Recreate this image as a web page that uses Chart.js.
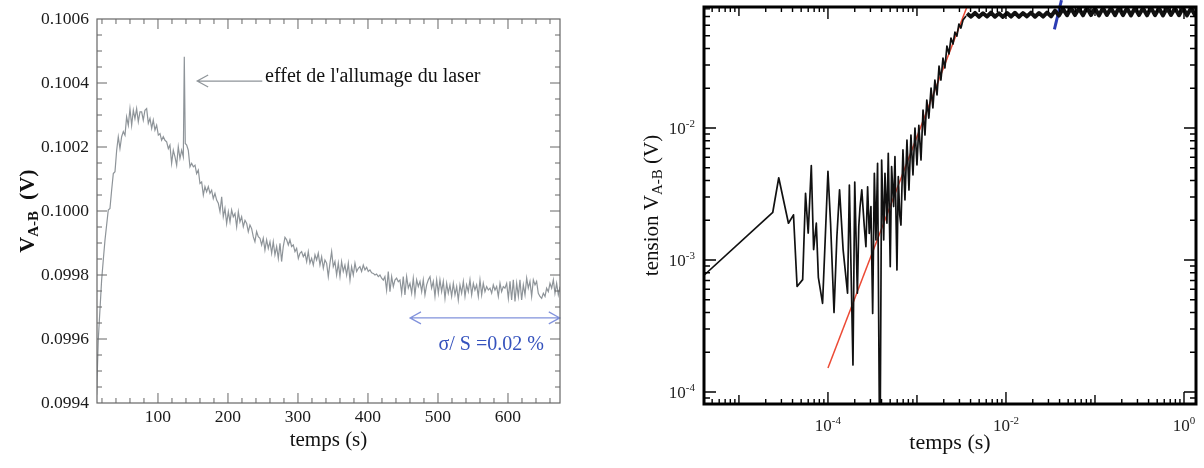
<!DOCTYPE html>
<html>
<head>
<meta charset="utf-8">
<script src="https://cdn.jsdelivr.net/npm/chart.js@4.4.0/dist/chart.umd.min.js"></script>
<style>
  html, body { margin: 0; padding: 0; background: #fff; }
  #wrap { position: relative; width: 1204px; height: 468px; }
  #left { position: absolute; left: 0; top: 0; }
  #right { position: absolute; left: 600px; top: 0; }
</style>
</head>
<body>
<div id="wrap">
  <canvas id="left" width="600" height="468"></canvas>
  <canvas id="right" width="604" height="468"></canvas>
</div>
<script>
// ---- left panel: V(A-B) vs time, linear axes ----
const leftTime = [
  12.4, 14.7, 19.5, 22.0,
  24.3, 29.0, 31.4, 33.8, 36.2, 38.6, 41.0, 43.3, 45.7, 48.1, 50.5, 52.9, 55.2, 57.6, 60.0, 62.4,
  64.8, 67.1, 69.5, 71.9, 74.3, 76.7, 79.0, 81.4, 83.8, 86.2, 88.6, 91.0, 93.3, 95.7, 98.1, 100.5,
  102.9, 105.2, 107.6, 110.0, 112.4, 114.8, 117.1, 119.5, 121.9, 124.3, 126.7, 129.0, 131.4, 133.8,
  136.2, 137.6, 139.0, 141.0, 143.3, 145.7, 148.1, 150.5, 152.9, 155.2, 157.6, 160.0, 162.4, 164.8,
  167.1, 169.5, 171.9, 174.3, 176.7, 179.0, 181.4, 183.8, 186.2, 188.6, 191.0, 193.3, 195.7, 198.1,
  200.5, 202.9, 205.2, 207.6, 210.0, 212.4, 214.8, 217.1, 219.5, 221.9, 224.3, 226.7, 229.0, 231.4,
  233.8, 236.2,
  238.5, 240.9, 243.3, 245.7, 248.1, 250.4, 252.8, 255.2, 257.6, 260.0, 262.4, 264.7, 267.1, 269.5,
  271.9, 274.3, 276.6, 279.0, 281.4, 283.8, 286.2, 288.5, 290.9, 293.3, 295.7, 298.1, 300.5, 302.8,
  305.2, 307.6, 310.0, 312.4, 314.7, 317.1, 319.5, 321.9, 324.3, 326.6, 329.0, 331.4, 333.8, 336.2,
  338.5, 340.9, 343.3, 345.7, 348.1, 350.4, 352.8, 355.2, 357.6, 360.0, 362.3, 364.7, 367.1, 369.5,
  371.9, 374.3, 376.6, 379.0, 381.4, 383.8, 386.2, 388.5, 390.9, 393.3, 395.7, 398.1, 400.4, 402.8,
  405.2, 407.6, 410.0, 412.3, 414.7, 417.1, 419.5, 421.9, 424.2, 426.6, 429.0, 431.4, 433.8, 436.2,
  438.5, 440.9, 443.3, 445.7, 448.1, 450.4, 452.8, 455.2,
  457.6, 460.0, 462.4, 464.7, 467.1, 469.5, 471.9, 474.3, 476.7, 479.0, 481.4, 483.8, 486.2, 488.6,
  490.9, 493.3, 495.7, 498.1, 500.5, 502.8, 505.2, 507.6, 510.0, 512.4, 514.7, 517.1, 519.5, 521.9,
  524.3, 526.7, 529.0, 531.4, 533.8, 536.2, 538.6, 540.9, 543.3, 545.7, 548.1, 550.5, 552.8, 555.2,
  557.6, 560.0, 562.4, 564.7, 567.1, 569.5, 571.9, 574.3, 576.7, 579.0, 581.4, 583.8, 586.2, 588.6,
  590.9, 593.3, 595.7, 598.1, 600.5, 602.9, 605.2, 607.6, 610.0, 612.4, 614.8, 617.1, 619.5, 621.9,
  624.3, 626.7, 629.0, 631.4, 633.8, 636.2, 638.6, 640.9, 643.3, 645.7, 648.1, 650.5, 652.9, 655.2,
  657.6, 660.0, 662.4, 664.8, 667.1, 669.5, 671.9, 674.3
];
const leftVolt = [
  0.099426, 0.099597, 0.099784, 0.099850,
  0.099909, 0.100003, 0.100008, 0.100065, 0.100117, 0.100123, 0.100190, 0.100232, 0.100195, 0.100232,
  0.100248, 0.100237, 0.100294, 0.100268, 0.100320, 0.100268, 0.100315, 0.100289, 0.100320, 0.100279,
  0.100310, 0.100310, 0.100284, 0.100315, 0.100320, 0.100274, 0.100289, 0.100258, 0.100284, 0.100253,
  0.100268, 0.100237, 0.100242, 0.100221, 0.100232, 0.100221, 0.100216, 0.100195, 0.100206, 0.100149,
  0.100190, 0.100169, 0.100143, 0.100201, 0.100164, 0.100190, 0.100169, 0.100482, 0.100211, 0.100206,
  0.100190, 0.100138, 0.100149, 0.100138, 0.100143, 0.100117, 0.100128, 0.100086, 0.100091, 0.100050,
  0.100076, 0.100060, 0.100076, 0.100055, 0.100065, 0.100039, 0.100055, 0.100034, 0.100024, 0.099998,
  0.100044, 0.099982, 0.100008, 0.099961, 0.099998, 0.099966, 0.100003, 0.099982, 0.099992, 0.099951,
  0.099998, 0.099966, 0.099982, 0.099951, 0.099971, 0.099961, 0.099935, 0.099956, 0.099945, 0.099919,
  0.099904, 0.099936, 0.099920, 0.099915, 0.099894, 0.099915, 0.099878, 0.099910, 0.099883, 0.099904,
  0.099868, 0.099904, 0.099863, 0.099889, 0.099852, 0.099899, 0.099842, 0.099889, 0.099918, 0.099910,
  0.099894, 0.099910, 0.099889, 0.099894, 0.099873, 0.099883, 0.099852, 0.099868, 0.099873, 0.099857,
  0.099868, 0.099842, 0.099873, 0.099837, 0.099852, 0.099831, 0.099863, 0.099847, 0.099868, 0.099831,
  0.099857, 0.099821, 0.099847, 0.099837, 0.099795, 0.099837, 0.099873, 0.099826, 0.099842, 0.099800,
  0.099837, 0.099795, 0.099842, 0.099811, 0.099831, 0.099800, 0.099837, 0.099784, 0.099826, 0.099800,
  0.099837, 0.099811, 0.099821, 0.099826, 0.099811, 0.099831, 0.099816, 0.099824, 0.099811, 0.099816,
  0.099807, 0.099805, 0.099800, 0.099803, 0.099795, 0.099800, 0.099790, 0.099784, 0.099795, 0.099753,
  0.099811, 0.099748, 0.099795, 0.099764, 0.099784, 0.099790, 0.099779, 0.099784, 0.099743, 0.099795,
  0.099738, 0.099795,
  0.099759, 0.099774, 0.099743, 0.099790, 0.099738, 0.099785, 0.099764, 0.099780, 0.099748, 0.099785,
  0.099738, 0.099769, 0.099785, 0.099795, 0.099759, 0.099780, 0.099733, 0.099785, 0.099743, 0.099785,
  0.099748, 0.099780, 0.099727, 0.099774, 0.099743, 0.099769, 0.099733, 0.099774, 0.099738, 0.099764,
  0.099722, 0.099769, 0.099743, 0.099780, 0.099733, 0.099769, 0.099748, 0.099785, 0.099738, 0.099774,
  0.099753, 0.099769, 0.099733, 0.099785, 0.099738, 0.099774, 0.099748, 0.099764, 0.099753, 0.099759,
  0.099743, 0.099769, 0.099753, 0.099764, 0.099733, 0.099774, 0.099748, 0.099764, 0.099759, 0.099774,
  0.099727, 0.099780, 0.099722, 0.099785, 0.099717, 0.099774, 0.099733, 0.099785, 0.099722, 0.099769,
  0.099738, 0.099790, 0.099759, 0.099780, 0.099733, 0.099785, 0.099769, 0.099780, 0.099743, 0.099733,
  0.099727, 0.099743, 0.099733, 0.099759, 0.099748, 0.099774, 0.099759, 0.099785, 0.099743, 0.099774,
  0.099738, 0.099764
];
const leftXTicks = [100, 200, 300, 400, 500, 600];
const leftYTicks = [0.0994, 0.0996, 0.0998, 0.1000, 0.1002, 0.1004, 0.1006];
const leftYLabels = ['0.0994', '0.0996', '0.0998', '0.1000', '0.1002', '0.1004', '0.1006'];

// ---- right panel: log-log ----
const rightTime = [
  4.0e-6, 2.4e-5, 2.8e-5, 3.6e-5, 4.1e-5, 4.5e-5, 5.2e-5, 5.6e-5, 6.0e-5, 6.5e-5, 6.9e-5, 7.4e-5,
  7.8e-5, 8.7e-5, 9.3e-5, 1.0e-4, 1.07e-4, 1.17e-4, 1.26e-4, 1.35e-4, 1.48e-4, 1.66e-4, 1.74e-4,
  1.91e-4, 2.0e-4, 2.14e-4, 2.22e-4, 2.29e-4, 2.4e-4, 2.56e-4, 2.67e-4, 2.79e-4, 2.91e-4, 3.04e-4,
  3.18e-4, 3.32e-4, 3.46e-4, 3.61e-4, 3.78e-4, 3.87e-4, 4.01e-4, 4.23e-4, 4.37e-4, 4.6e-4, 4.76e-4,
  5.01e-4, 5.19e-4, 5.47e-4, 5.66e-4, 5.96e-4, 6.17e-4, 6.4e-4,
  6.61e-4, 6.96e-4, 7.33e-4, 7.72e-4, 8.13e-4, 8.56e-4, 9.02e-4, 9.50e-4, 1.0e-3, 1.05e-3, 1.11e-3,
  1.17e-3, 1.23e-3, 1.29e-3, 1.36e-3, 1.44e-3, 1.51e-3, 1.59e-3, 1.68e-3, 1.77e-3, 1.86e-3, 1.96e-3,
  2.06e-3, 2.17e-3, 2.29e-3, 2.41e-3, 2.54e-3, 2.67e-3, 2.81e-3, 2.96e-3, 3.12e-3, 3.29e-3, 3.56e-3
];
const rightVolt = [
  7.6e-4, 2.3e-3, 4.2e-3, 1.9e-3, 2.2e-3, 6.3e-4, 7.1e-4, 3.2e-3, 1.6e-3, 5.2e-3, 1.2e-3, 1.9e-3,
  7.4e-4, 4.7e-4, 1.4e-3, 4.7e-3, 1.9e-3, 4.0e-4, 1.5e-3, 3.4e-3, 1.2e-3, 5.6e-4, 3.7e-3,
  1.6e-4, 3.9e-3, 5.6e-4, 1.8e-3, 2.5e-3, 3.4e-3, 1.8e-3, 1.26e-3, 3.59e-3, 1.59e-3, 2.54e-3,
  3.94e-4, 4.54e-3, 1.42e-3, 5.40e-3, 7.0e-5, 7.0e-5, 5.72e-3, 1.42e-3, 4.54e-3, 1.90e-3, 6.43e-3,
  8.9e-4, 5.1e-3, 2.54e-3, 6.07e-3, 8.4e-4, 4.28e-3, 2.2e-3,
  1.84e-3, 6.82e-3, 2.85e-3, 8.11e-3, 3.39e-3, 8.85e-3, 4.41e-3, 1.0e-2, 5.25e-3, 1.05e-2, 5.72e-3,
  1.37e-2, 8.85e-3, 1.63e-2, 1.19e-2, 2.01e-2, 1.42e-2, 2.31e-2, 1.78e-2, 2.95e-2, 2.31e-2, 3.39e-2,
  2.85e-2, 4.18e-2, 3.64e-2, 4.81e-2, 4.33e-2, 5.33e-2, 4.97e-2, 6.14e-2, 5.72e-2, 6.58e-2, 7.05e-2
];
const plateauTime = [
  3.65e-3, 4.05e-3, 4.49e-3, 4.98e-3, 5.52e-3, 6.12e-3, 6.78e-3, 7.52e-3, 8.34e-3, 9.25e-3,
  1.03e-2, 1.14e-2, 1.26e-2, 1.40e-2, 1.55e-2, 1.72e-2, 1.91e-2, 2.12e-2, 2.35e-2, 2.61e-2,
  2.89e-2, 3.21e-2, 3.56e-2, 3.94e-2, 4.37e-2, 4.85e-2, 5.37e-2, 5.96e-2, 6.61e-2, 7.33e-2,
  8.13e-2, 9.02e-2, 0.100, 0.111, 0.123, 0.136, 0.151, 0.168, 0.186, 0.206,
  0.229, 0.254, 0.281, 0.312, 0.346, 0.384, 0.426, 0.472, 0.524, 0.581,
  0.644, 0.714, 0.792, 0.879, 0.975, 1.08, 1.20, 1.33, 1.48
];
const plateauVolt = [
  0.0738, 0.0698, 0.0745, 0.0696, 0.0741, 0.0700, 0.0748, 0.0697, 0.0740, 0.0695,
  0.0744, 0.0699, 0.0747, 0.0696, 0.0742, 0.0701, 0.0749, 0.0697, 0.0743, 0.0699,
  0.0750, 0.0702, 0.0775, 0.0712, 0.0800, 0.0716, 0.0812, 0.0718, 0.0806, 0.0714,
  0.0815, 0.0717, 0.0809, 0.0713, 0.0813, 0.0719, 0.0810, 0.0715, 0.0816, 0.0717,
  0.0808, 0.0713, 0.0814, 0.0718, 0.0811, 0.0714, 0.0817, 0.0716, 0.0809, 0.0713,
  0.0815, 0.0719, 0.0810, 0.0715, 0.0816, 0.0714, 0.0812, 0.0717, 0.0811
];
const fitTime = [1.0e-4, 3.7e-3];
const fitVolt = [1.52e-4, 0.085];
const markTime = [0.035, 0.042];
const markVolt = [0.056, 0.093];
const rightXTicks = [1e-4, 1e-2, 1];
const rightXLabels = [['10', '-4'], ['10', '-2'], ['10', '0']];
const rightYTicks = [1e-4, 1e-3, 1e-2];
const rightYLabels = [['10', '-4'], ['10', '-3'], ['10', '-2']];

const SERIF = "'Liberation Serif', 'Times New Roman', 'DejaVu Serif', serif";
const pts = (xs, ys) => xs.map((x, i) => ({ x: x, y: ys[i] }));

// rotated axis title made of pieces (for the A-B subscript)
function drawRotated(ctx, cx, cy, parts) {
  ctx.save();
  ctx.translate(cx, cy);
  ctx.rotate(-Math.PI / 2);
  ctx.textBaseline = 'alphabetic';
  let total = 0;
  parts.forEach(p => { ctx.font = p.font; p.w = ctx.measureText(p.text).width; total += p.w; });
  let x = -total / 2;
  parts.forEach(p => { ctx.font = p.font; ctx.fillText(p.text, x, p.dy || 0); x += p.w; });
  ctx.restore();
}

// "10" with a raised exponent
function drawPow(ctx, px, py, base, exp, align) {
  ctx.font = '17px ' + SERIF;
  const bw = ctx.measureText(base).width;
  ctx.font = '11px ' + SERIF;
  const ew = ctx.measureText(exp).width;
  const x0 = align === 'right' ? px - bw - ew : px - (bw + ew) / 2;
  ctx.textAlign = 'left';
  ctx.textBaseline = 'middle';
  ctx.font = '17px ' + SERIF;
  ctx.fillText(base, x0, py);
  ctx.font = '11px ' + SERIF;
  ctx.fillText(exp, x0 + bw, py - 6);
}

// frame + inward ticks on four sides + y title
function makeFrame(cfg) {
  return {
    id: 'frame',
    afterDatasetsDraw(chart) {
      const { ctx, chartArea: a } = chart;
      const sx = chart.scales.x, sy = chart.scales.y;
      ctx.save();
      ctx.strokeStyle = cfg.color;
      ctx.lineWidth = cfg.tickWidth;
      ctx.beginPath();
      cfg.xTicks.forEach(([list, len]) => list.forEach(v => {
        const p = sx.getPixelForValue(v);
        if (p < a.left + 1 || p > a.right - 1) return;
        ctx.moveTo(p, a.bottom); ctx.lineTo(p, a.bottom - len);
        ctx.moveTo(p, a.top); ctx.lineTo(p, a.top + len);
      }));
      cfg.yTicks.forEach(([list, len]) => list.forEach(v => {
        const p = sy.getPixelForValue(v);
        if (p < a.top + 1 || p > a.bottom - 1) return;
        ctx.moveTo(a.left, p); ctx.lineTo(a.left + len, p);
        ctx.moveTo(a.right, p); ctx.lineTo(a.right - len, p);
      }));
      ctx.stroke();
      ctx.lineWidth = cfg.borderWidth;
      ctx.strokeRect(a.left, a.top, a.right - a.left, a.bottom - a.top);
      ctx.fillStyle = '#111';
      drawRotated(ctx, cfg.titleX, (a.top + a.bottom) / 2, cfg.title);
      if (cfg.powLabels) {
        ctx.fillStyle = '#222';
        cfg.powLabels.x[0].forEach((v, i) => {
          const [b, e] = cfg.powLabels.x[1][i];
          drawPow(ctx, sx.getPixelForValue(v), a.bottom + 23, b, e, 'center');
        });
        cfg.powLabels.y[0].forEach((v, i) => {
          const [b, e] = cfg.powLabels.y[1][i];
          drawPow(ctx, a.left - 9, sy.getPixelForValue(v) + 2, b, e, 'right');
        });
      }
      ctx.restore();
    }
  };
}

// annotations on the left panel
const notesPlugin = {
  id: 'notes',
  afterDatasetsDraw(chart) {
    const { ctx } = chart;
    const x = chart.scales.x, y = chart.scales.y;
    ctx.save();
    // laser switch-on arrow
    const tip = x.getPixelForValue(156), tail = x.getPixelForValue(249), ay = y.getPixelForValue(0.100406);
    ctx.strokeStyle = '#8e9499';
    ctx.lineWidth = 1.2;
    ctx.beginPath();
    ctx.moveTo(tail, ay); ctx.lineTo(tip, ay);
    ctx.moveTo(tip + 11, ay - 6); ctx.lineTo(tip, ay); ctx.lineTo(tip + 11, ay + 6);
    ctx.stroke();
    ctx.fillStyle = '#111';
    ctx.font = '20px ' + SERIF;
    ctx.textBaseline = 'middle';
    ctx.textAlign = 'left';
    ctx.fillText("effet de l'allumage du laser", x.getPixelForValue(253), ay - 4);
    // sigma/S double arrow
    const b0 = x.getPixelForValue(460), b1 = x.getPixelForValue(674), by = y.getPixelForValue(0.099666);
    ctx.strokeStyle = '#8192dc';
    ctx.beginPath();
    ctx.moveTo(b0, by); ctx.lineTo(b1, by);
    ctx.moveTo(b0 + 11, by - 6); ctx.lineTo(b0, by); ctx.lineTo(b0 + 11, by + 6);
    ctx.moveTo(b1 - 11, by - 6); ctx.lineTo(b1, by); ctx.lineTo(b1 - 11, by + 6);
    ctx.stroke();
    ctx.fillStyle = '#3552bd';
    ctx.textAlign = 'center';
    ctx.fillText('σ/ S =0.02 %', x.getPixelForValue(576), y.getPixelForValue(0.099581));
    ctx.restore();
  }
};

const leftMinorX = [], leftMinorY = [];
for (let t = 20; t < 680; t += 20) if (t % 100) leftMinorX.push(t);
for (let k = 0; k < 24; k++) if (k % 4) leftMinorY.push(0.0994 + k * 0.00005);

new Chart(document.getElementById('left'), {
  type: 'line',
  data: {
    datasets: [{
      data: pts(leftTime, leftVolt),
      borderColor: '#8e9499',
      borderWidth: 1.2,
      pointRadius: 0,
      tension: 0
    }]
  },
  options: {
    responsive: false,
    animation: false,
    layout: { padding: { top: 19, right: 40, left: 0, bottom: 0 } },
    plugins: { legend: { display: false }, tooltip: { enabled: false } },
    scales: {
      x: {
        type: 'linear', min: 12.9, max: 674.3,
        grid: { display: false, drawTicks: false },
        border: { display: false },
        afterBuildTicks: s => { s.ticks = leftXTicks.map(v => ({ value: v })); },
        afterFit: s => { s.height = 65; s.paddingLeft = 0; s.paddingRight = 0; },
        ticks: { autoSkip: false, maxRotation: 0, padding: 4, color: '#1a1a1a',
                 font: { family: SERIF, size: 17.5 } },
        title: { display: true, text: 'temps (s)', color: '#111',
                 font: { family: SERIF, size: 21 }, padding: { top: 0, bottom: 15 } }
      },
      y: {
        type: 'linear', min: 0.0994, max: 0.1006,
        grid: { display: false, drawTicks: false },
        border: { display: false },
        afterBuildTicks: s => { s.ticks = leftYTicks.map(v => ({ value: v })); },
        afterFit: s => { s.width = 97; s.paddingTop = 0; s.paddingBottom = 0; },
        ticks: { padding: 8, color: '#1a1a1a', font: { family: SERIF, size: 17.5 },
                 callback: (v, i) => leftYLabels[i] }
      }
    }
  },
  plugins: [notesPlugin, makeFrame({
    color: '#666', tickWidth: 1, borderWidth: 1.2,
    xTicks: [[leftXTicks, 10], [leftMinorX, 5]],
    yTicks: [[leftYTicks, 10], [leftMinorY, 5]],
    titleX: 34,
    title: [
      { text: 'V', font: 'bold 22px ' + SERIF },
      { text: 'A-B', font: 'bold 15px ' + SERIF, dy: 4 },
      { text: '  (V)', font: 'bold 22px ' + SERIF }
    ]
  })]
});

const decadeX = [1e-5, 1e-3, 1e-1], minorX = [], minorY = [];
for (let e = -6; e <= 0; e++) for (let m = 2; m <= 9; m++) { minorX.push(m * Math.pow(10, e)); minorY.push(m * Math.pow(10, e)); }

new Chart(document.getElementById('right'), {
  type: 'line',
  data: {
    datasets: [
      { data: pts(rightTime, rightVolt), borderColor: '#111', borderWidth: 1.7, borderJoinStyle: 'round',
        pointRadius: 0, tension: 0 },
      { data: pts(plateauTime, plateauVolt), borderColor: '#111', borderWidth: 4, borderJoinStyle: 'round',
        pointRadius: 0, tension: 0 },
      { data: pts(fitTime, fitVolt), borderColor: '#ec4a35', borderWidth: 1.5, pointRadius: 0 },
      { data: pts(markTime, markVolt), borderColor: '#2b3cb4', borderWidth: 3, pointRadius: 0, clip: false }
    ]
  },
  options: {
    responsive: false,
    animation: false,
    layout: { padding: { top: 7, right: 8, left: 0, bottom: 0 } },
    plugins: { legend: { display: false }, tooltip: { enabled: false } },
    scales: {
      x: {
        type: 'logarithmic', min: 4.05e-6, max: 1.364,
        grid: { display: false, drawTicks: false },
        border: { display: false },
        afterBuildTicks: s => { s.ticks = rightXTicks.map(v => ({ value: v })); },
        afterFit: s => { s.height = 64; s.paddingLeft = 0; s.paddingRight = 0; },
        ticks: { display: false },
        title: { display: true, text: 'temps (s)', color: '#111',
                 font: { family: SERIF, size: 22 }, padding: { top: 0, bottom: 12 } }
      },
      y: {
        type: 'logarithmic', min: 8.11e-5, max: 0.0826,
        grid: { display: false, drawTicks: false },
        border: { display: false },
        afterBuildTicks: s => { s.ticks = rightYTicks.map(v => ({ value: v })); },
        afterFit: s => { s.width = 104; s.paddingTop = 0; s.paddingBottom = 0; },
        ticks: { display: false }
      }
    }
  },
  plugins: [makeFrame({
    color: '#000', tickWidth: 1.4, borderWidth: 3,
    xTicks: [[rightXTicks, 12], [decadeX, 9], [minorX, 5]],
    yTicks: [[rightYTicks, 12], [minorY, 6]],
    powLabels: { x: [rightXTicks, rightXLabels], y: [rightYTicks, rightYLabels] },
    titleX: 58,
    title: [
      { text: 'tension V', font: '21px ' + SERIF },
      { text: 'A-B', font: '15px ' + SERIF, dy: 4 },
      { text: ' (V)', font: '21px ' + SERIF }
    ]
  })]
});
</script>
</body>
</html>
